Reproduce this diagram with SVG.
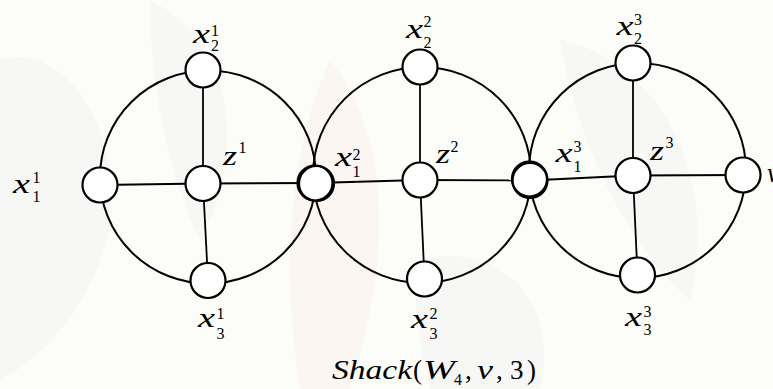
<svg xmlns="http://www.w3.org/2000/svg" width="773" height="389" viewBox="0 0 773 389">
<style>
.bg{fill:#fcfcf8}
.wm1{fill:#eef1f4;opacity:0.35}
.wm2{fill:#fbecea;opacity:0.35}
.rim{fill:none;stroke:#000;stroke-width:2}
.spoke{stroke:#000;stroke-width:1.8}
.nd{fill:#fff;stroke:#000;stroke-width:2.2}
.dbl{fill:none;stroke:#000;stroke-width:2.2}
.m{font-family:"Liberation Serif",serif;font-style:italic;font-size:27px;fill:#000}
.s{font-family:"Liberation Serif",serif;font-size:16px;fill:#000}
.u{font-family:"Liberation Serif",serif;font-size:27px;fill:#000}
</style>
<rect class="bg" x="0" y="0" width="773" height="389"/>
<g id="watermark">
<path class="wm1" d="M0,60 C60,40 120,120 110,220 C100,300 40,360 0,380 Z"/>
<path class="wm1" d="M150,0 C230,40 250,150 200,240 C170,180 150,90 150,0 Z"/>
<path class="wm2" d="M330,60 C380,120 400,230 350,389 L300,389 C280,260 290,150 330,60 Z"/>
<path class="wm1" d="M560,40 C660,60 720,180 690,300 C640,260 580,160 560,40 Z"/>
<path class="wm1" d="M420,260 C500,240 560,300 540,389 L430,389 C420,340 410,300 420,260 Z"/>
</g>
<g id="connectors">
<ellipse class="rim" cx="208" cy="177" rx="108" ry="106.5"/>
<ellipse class="rim" cx="422" cy="175" rx="109" ry="108"/>
<ellipse class="rim" cx="637.5" cy="170.5" rx="108.5" ry="107.5"/>
<line class="spoke" x1="203" y1="70" x2="203" y2="183.5"/>
<line class="spoke" x1="203" y1="183.5" x2="208" y2="280.5"/>
<line class="spoke" x1="100" y1="185" x2="203" y2="183.5"/>
<line class="spoke" x1="203" y1="183.5" x2="315" y2="183"/>
<line class="spoke" x1="420" y1="67" x2="420" y2="180"/>
<line class="spoke" x1="420" y1="180" x2="424.5" y2="279"/>
<line class="spoke" x1="315" y1="183" x2="420" y2="180"/>
<line class="spoke" x1="420" y1="180" x2="530" y2="180.5"/>
<line class="spoke" x1="633" y1="63" x2="633" y2="175.5"/>
<line class="spoke" x1="633" y1="175.5" x2="637.5" y2="275"/>
<line class="spoke" x1="530" y1="180.5" x2="633" y2="175.5"/>
<line class="spoke" x1="633" y1="175.5" x2="743" y2="175"/>
</g>
<g id="n-x11"><circle class="nd" cx="100" cy="185" r="17.5"/><text class="m" x="13" y="193" textLength="17" lengthAdjust="spacingAndGlyphs">x</text><text class="s" x="32.5" y="183">1</text><text class="s" x="32.5" y="201.5">1</text></g>
<g id="n-x21"><circle class="nd" cx="203" cy="70" r="17.5"/><text class="m" x="193" y="42.5" textLength="17" lengthAdjust="spacingAndGlyphs">x</text><text class="s" x="211" y="35.5">1</text><text class="s" x="211" y="51">2</text></g>
<g id="n-z1"><circle class="nd" cx="203" cy="183.5" r="17.5"/><text class="m" x="223" y="165" textLength="14" lengthAdjust="spacingAndGlyphs">z</text><text class="s" x="238.5" y="153">1</text></g>
<g id="n-x31"><circle class="nd" cx="208" cy="280.5" r="17.5"/><text class="m" x="198" y="327" textLength="17" lengthAdjust="spacingAndGlyphs">x</text><text class="s" x="216.5" y="319">1</text><text class="s" x="216.5" y="338.5">3</text></g>
<g id="n-x12"><circle class="nd" cx="315" cy="183" r="17.5"/><circle class="dbl" cx="316.5" cy="183.5" r="17.5"/><text class="m" x="335" y="166" textLength="17" lengthAdjust="spacingAndGlyphs">x</text><text class="s" x="352.5" y="159.5">2</text><text class="s" x="352.5" y="177">1</text></g>
<g id="n-x22"><circle class="nd" cx="420" cy="67" r="17.5"/><text class="m" x="406" y="38" textLength="17" lengthAdjust="spacingAndGlyphs">x</text><text class="s" x="423.5" y="27">2</text><text class="s" x="423.5" y="47.5">2</text></g>
<g id="n-z2"><circle class="nd" cx="420" cy="180" r="17.5"/><text class="m" x="436" y="163" textLength="14" lengthAdjust="spacingAndGlyphs">z</text><text class="s" x="450.5" y="151.5">2</text></g>
<g id="n-x32"><circle class="nd" cx="424.5" cy="279" r="17.5"/><text class="m" x="411" y="328" textLength="17" lengthAdjust="spacingAndGlyphs">x</text><text class="s" x="429.5" y="319">2</text><text class="s" x="429.5" y="338.5">3</text></g>
<g id="n-x13"><circle class="nd" cx="530" cy="180.5" r="17.5"/><circle class="dbl" cx="529.5" cy="179" r="17.5"/><text class="m" x="555.5" y="162" textLength="17" lengthAdjust="spacingAndGlyphs">x</text><text class="s" x="573.5" y="151.5">3</text><text class="s" x="573.5" y="172">1</text></g>
<g id="n-x23"><circle class="nd" cx="633" cy="63" r="17.5"/><text class="m" x="616.5" y="35" textLength="17" lengthAdjust="spacingAndGlyphs">x</text><text class="s" x="634" y="24.5">3</text><text class="s" x="634" y="44">2</text></g>
<g id="n-z3"><circle class="nd" cx="633" cy="175.5" r="17.5"/><text class="m" x="650" y="160" textLength="14" lengthAdjust="spacingAndGlyphs">z</text><text class="s" x="665.5" y="148">3</text></g>
<g id="n-x33"><circle class="nd" cx="637.5" cy="275" r="17.5"/><text class="m" x="625" y="325.5" textLength="17" lengthAdjust="spacingAndGlyphs">x</text><text class="s" x="643.5" y="316.5">3</text><text class="s" x="643.5" y="335">3</text></g>
<g id="n-v"><circle class="nd" cx="743" cy="175" r="17.5"/><text class="m" x="767" y="182">v</text></g>
<g id="caption">
<text class="m" x="332" y="379" textLength="80" lengthAdjust="spacingAndGlyphs">Shack</text>
<text class="u" x="413" y="379">(</text>
<text class="m" x="423" y="379" textLength="32" lengthAdjust="spacingAndGlyphs">W</text>
<text class="s" x="454" y="385">4</text>
<text class="u" x="465" y="379">,</text>
<text class="m" x="477" y="379" textLength="16" lengthAdjust="spacingAndGlyphs">v</text>
<text class="u" x="496" y="379">,</text>
<text class="u" x="510" y="379">3</text>
<text class="u" x="527" y="379">)</text>
</g>
</svg>
